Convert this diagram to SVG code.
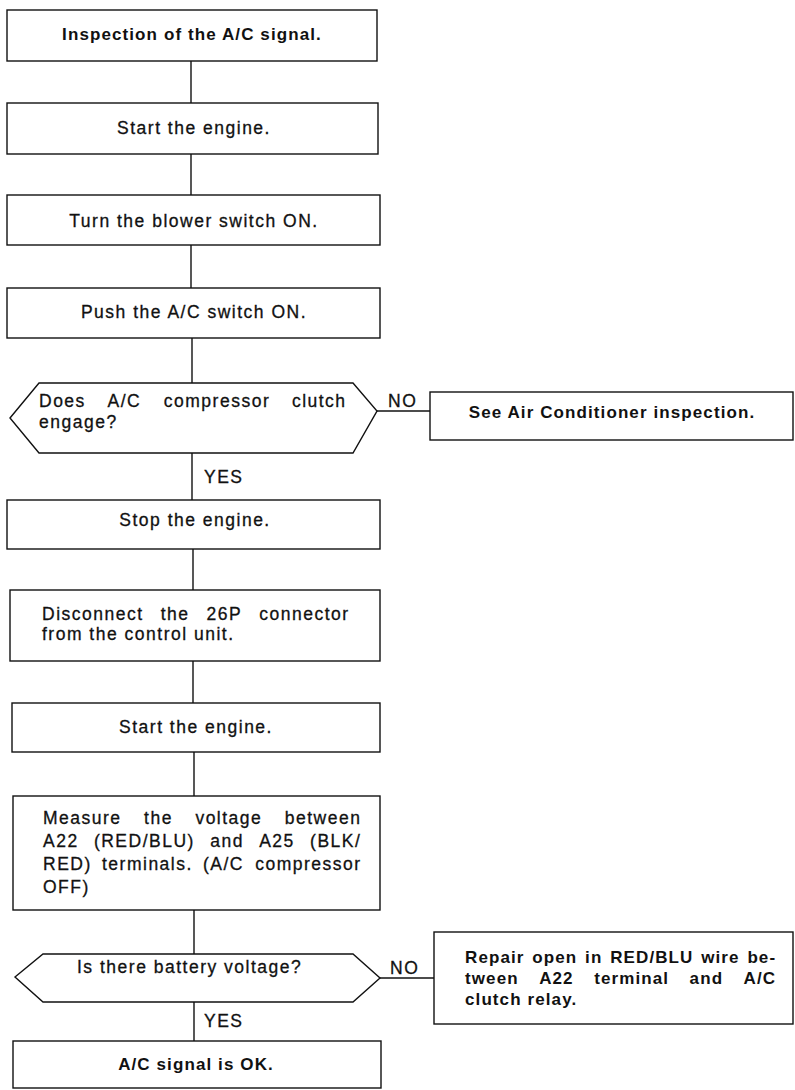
<svg xmlns="http://www.w3.org/2000/svg" width="795" height="1090" viewBox="0 0 795 1090">
  <style>
    .box { fill: #ffffff; stroke: #111111; stroke-width: 1.4; }
    .wire { fill: none; stroke: #111111; stroke-width: 1.4; }
    .t { font-family: "Liberation Sans", Arial, sans-serif; font-size: 17.5px; letter-spacing: 1.5px; fill: #111111; stroke: #111111; stroke-width: 0.3; }
    .b { font-family: "Liberation Sans", Arial, sans-serif; font-size: 17px; font-weight: bold; letter-spacing: 1.1px; fill: #111111; }
    .c { text-anchor: middle; }
  </style>
  <rect width="795" height="1090" fill="#ffffff"/>

  <!-- connectors between the steps, with their YES / NO labels -->
  <g id="connectors">
    <line class="wire" x1="191" y1="61" x2="191" y2="103"/>
    <line class="wire" x1="191" y1="154" x2="191" y2="195"/>
    <line class="wire" x1="191" y1="245" x2="191" y2="288"/>
    <line class="wire" x1="192" y1="338" x2="192" y2="383"/>
    <line class="wire" x1="192" y1="453" x2="192" y2="500"/>
    <line class="wire" x1="193" y1="549" x2="193" y2="590"/>
    <line class="wire" x1="193" y1="661" x2="193" y2="703"/>
    <line class="wire" x1="194" y1="752" x2="194" y2="796"/>
    <line class="wire" x1="194" y1="910" x2="194" y2="954"/>
    <line class="wire" x1="194" y1="1002" x2="194" y2="1041"/>
    <line class="wire" x1="377" y1="411" x2="430" y2="411"/>
    <line class="wire" x1="380" y1="978" x2="434" y2="978"/>
    <text class="t" x="204" y="483">YES</text>
    <text class="t" x="388" y="407">NO</text>
    <text class="t" x="390" y="974">NO</text>
    <text class="t" x="204" y="1027">YES</text>
  </g>

  <g id="inspection-start">
    <rect class="box" x="7" y="10" width="370" height="51"/>
    <text class="b c" x="192" y="40">Inspection of the A/C signal.</text>
  </g>

  <g id="start-engine-1">
    <rect class="box" x="7" y="103" width="371" height="51"/>
    <text class="t c" x="194" y="134">Start the engine.</text>
  </g>

  <g id="blower-on">
    <rect class="box" x="7" y="195" width="373" height="50"/>
    <text class="t c" x="194" y="227">Turn the blower switch ON.</text>
  </g>

  <g id="ac-switch-on">
    <rect class="box" x="7" y="288" width="373" height="50"/>
    <text class="t c" x="194" y="318">Push the A/C switch ON.</text>
  </g>

  <g id="clutch-engage">
    <polygon class="box" points="10,418 39,383 353,383 377,411 353,453 39,453"/>
    <text class="t" y="407"><tspan x="39">Does</tspan><tspan x="107.5">A/C</tspan><tspan x="163.8">compressor</tspan><tspan x="291.9">clutch</tspan></text>
    <text class="t" x="39" y="428">engage?</text>
  </g>

  <g id="see-ac-inspection">
    <rect class="box" x="430" y="392" width="363" height="48"/>
    <text class="b c" x="612" y="418">See Air Conditioner inspection.</text>
  </g>

  <g id="stop-engine">
    <rect class="box" x="7" y="500" width="373" height="49"/>
    <text class="t c" x="195" y="526">Stop the engine.</text>
  </g>

  <g id="disconnect-26p">
    <rect class="box" x="10" y="590" width="370" height="71"/>
    <text class="t" y="620"><tspan x="42">Disconnect</tspan><tspan x="160.7">the</tspan><tspan x="206.6">26P</tspan><tspan x="259.3">connector</tspan></text>
    <text class="t" x="42" y="640">from the control unit.</text>
  </g>

  <g id="start-engine-2">
    <rect class="box" x="12" y="703" width="368" height="49"/>
    <text class="t c" x="196" y="733">Start the engine.</text>
  </g>

  <g id="measure-voltage">
    <rect class="box" x="13" y="796" width="367" height="114"/>
    <text class="t" y="824"><tspan x="43">Measure</tspan><tspan x="144.1">the</tspan><tspan x="195.4">voltage</tspan><tspan x="284.8">between</tspan></text>
    <text class="t" y="847"><tspan x="43">A22</tspan><tspan x="93.9">(RED/BLU)</tspan><tspan x="210.2">and</tspan><tspan x="259.2">A25</tspan><tspan x="310.1">(BLK/</tspan></text>
    <text class="t" y="870"><tspan x="43">RED)</tspan><tspan x="102">terminals.</tspan><tspan x="203">(A/C</tspan><tspan x="255.2">compressor</tspan></text>
    <text class="t" x="43" y="893">OFF)</text>
  </g>

  <g id="battery-voltage">
    <polygon class="box" points="15,977 43,954 353,954 380,978 353,1002 43,1002"/>
    <text class="t" x="77" y="973">Is there battery voltage?</text>
  </g>

  <g id="repair-wire">
    <rect class="box" x="434" y="932" width="359" height="92"/>
    <text class="b" y="963"><tspan x="465">Repair</tspan><tspan x="532.3">open</tspan><tspan x="585.1">in</tspan><tspan x="610.2">RED/BLU</tspan><tspan x="701.2">wire</tspan><tspan x="747.4">be-</tspan></text>
    <text class="b" y="984"><tspan x="465">tween</tspan><tspan x="539.2">A22</tspan><tspan x="594.2">terminal</tspan><tspan x="689.6">and</tspan><tspan x="743.6">A/C</tspan></text>
    <text class="b" x="465" y="1005">clutch relay.</text>
  </g>

  <g id="signal-ok">
    <rect class="box" x="13" y="1041" width="368" height="47"/>
    <text class="b c" x="196" y="1070">A/C signal is OK.</text>
  </g>
</svg>
